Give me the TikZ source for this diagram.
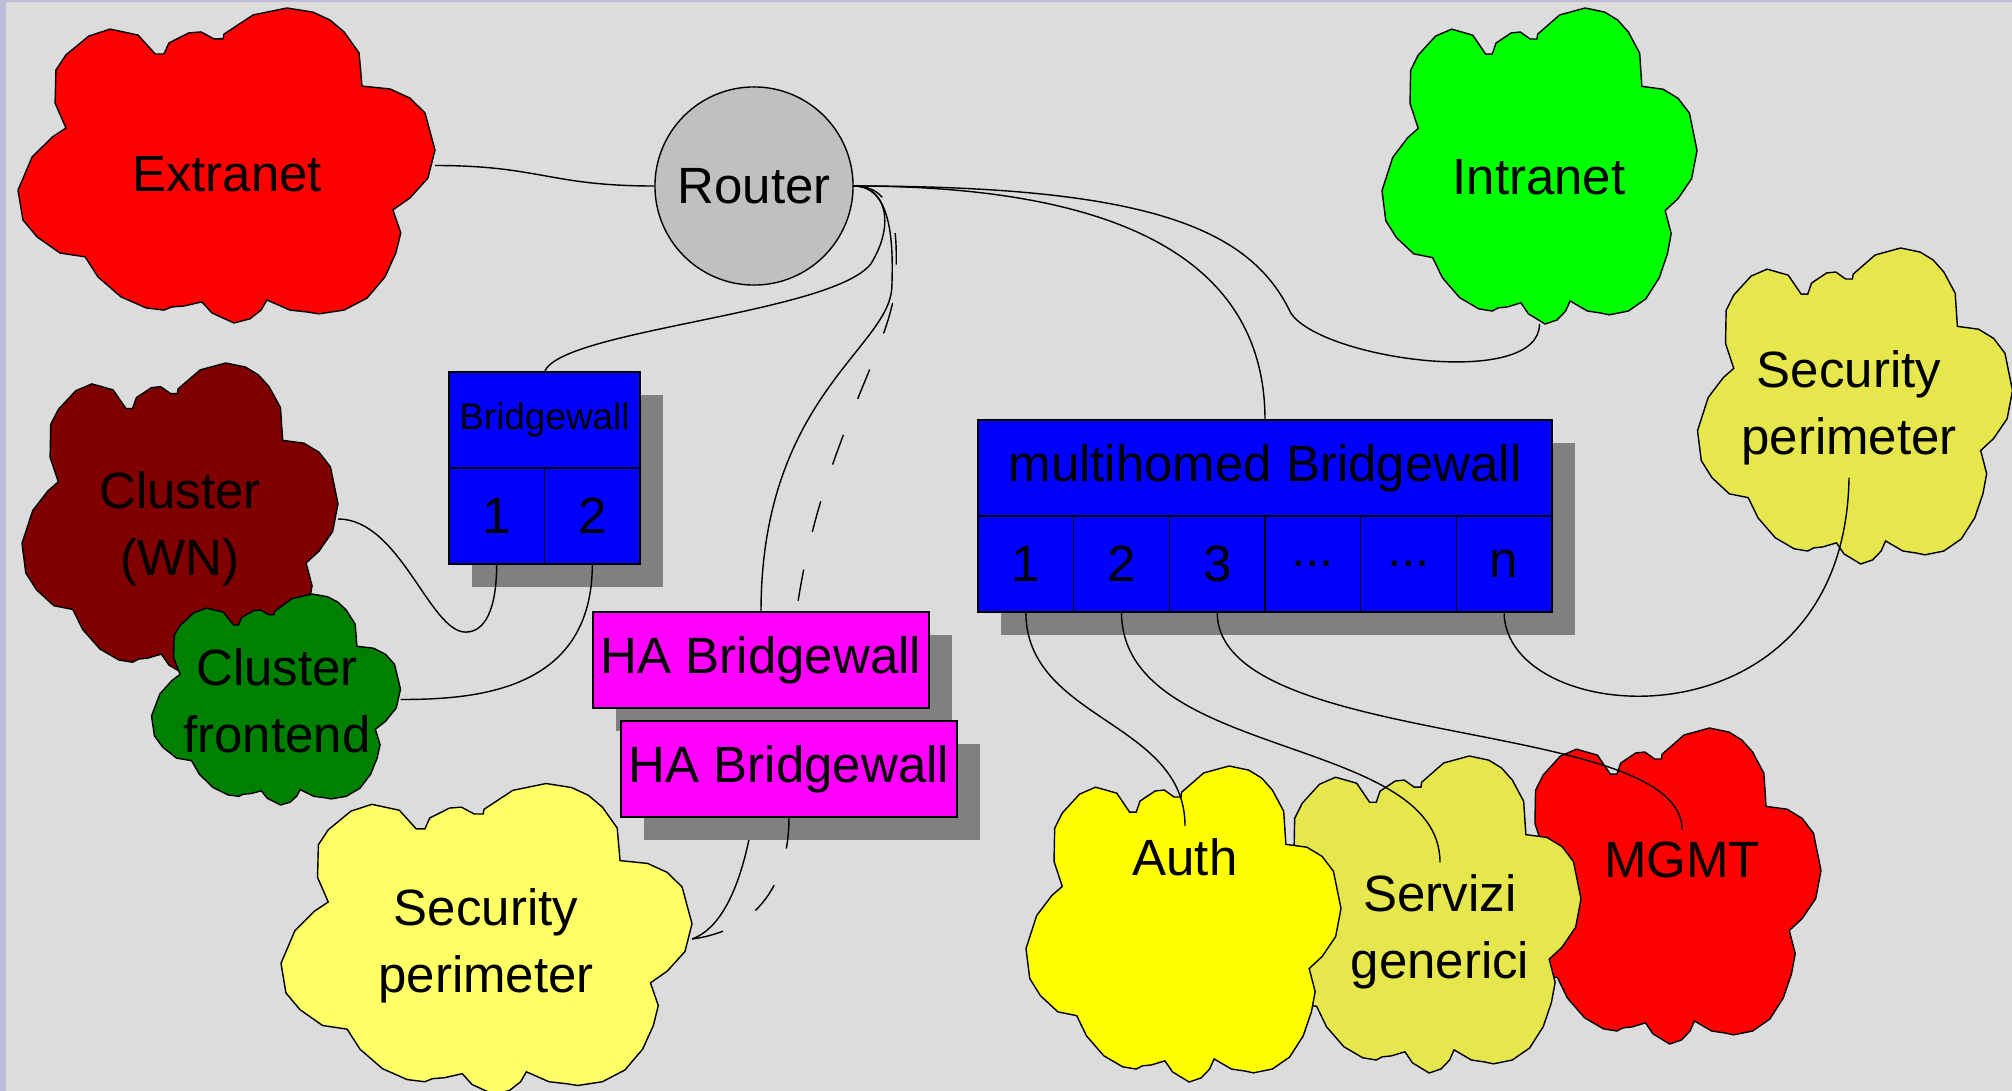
\documentclass[tikz,border=0pt]{standalone}
\usepackage{fontspec}
\setmainfont{Liberation Sans}
\usetikzlibrary{shapes,positioning,calc,shadows}

\definecolor{bggray}{RGB}{220,220,220}
\definecolor{edgeblue}{RGB}{186,190,216}
\definecolor{routergray}{RGB}{192,192,192}
\definecolor{shadowgray}{RGB}{128,128,128}
\definecolor{netred}{RGB}{255,0,0}
\definecolor{netgreen}{RGB}{0,255,0}
\definecolor{netkhaki}{RGB}{230,230,77}
\definecolor{netmaroon}{RGB}{128,0,0}
\definecolor{netforest}{RGB}{0,128,0}
\definecolor{netpale}{RGB}{255,255,102}
\definecolor{netyellow}{RGB}{255,255,0}
\definecolor{bwblue}{RGB}{0,0,255}
\definecolor{hamagenta}{RGB}{255,0,255}

\pgfdeclarelayer{backdrop}
\pgfdeclarelayer{behind}
\pgfsetlayers{backdrop,behind,main}

% cloud outline in a unit box, v pointing down
\newcommand{\cloudshape}{(0.645,0) -- (0.564,0.022) -- (0.494,0.083) -- (0.492,0.098) -- (0.470,0.098) -- (0.439,0.076) -- (0.410,0.079) -- (0.362,0.111) -- (0.350,0.146) -- (0.329,0.146) -- (0.288,0.086) -- (0.221,0.067) -- (0.170,0.089) -- (0.115,0.149) -- (0.091,0.197) -- (0.089,0.302) -- (0.115,0.381) -- (0.082,0.410) -- (0.034,0.473) -- (0,0.578) -- (0.012,0.673) -- (0.046,0.727) -- (0.101,0.778) -- (0.161,0.790) -- (0.192,0.854) -- (0.247,0.917) -- (0.307,0.952) -- (0.350,0.959) -- (0.369,0.949) -- (0.398,0.946) -- (0.441,0.933) -- (0.465,0.968) -- (0.518,1) -- (0.556,0.987) -- (0.583,0.959) -- (0.597,0.927) -- (0.652,0.959) -- (0.693,0.965) -- (0.722,0.971) -- (0.782,0.959) -- (0.837,0.921) -- (0.880,0.854) -- (0.906,0.778) -- (0.918,0.714) -- (0.899,0.641) -- (0.940,0.603) -- (0.983,0.540) -- (1,0.451) -- (0.976,0.333) -- (0.940,0.286) -- (0.892,0.257) -- (0.825,0.248) -- (0.818,0.143) -- (0.782,0.076) -- (0.748,0.038) -- (0.707,0.013) -- cycle}

% name, centre, width, height, colour
\newcommand{\netcloud}[5]{%
    \node[minimum width=#3*0.01cm, minimum height=#4*0.01cm, inner sep=0pt, outer sep=0pt] (#1) at (#2) {};
    \filldraw[fill=#5, shift={(#1.north west)}, xscale=#3, yscale=#4] \cloudshape;
}

\begin{document}
\begin{tikzpicture}[x=0.01cm, y=-0.01cm, line width=0.4pt,
    bigfont/.style={font=\fontsize{14.5}{19}\selectfont},
    lbl/.style={bigfont, align=center},
    boxpart/.style={draw, bigfont, minimum height=0.96cm, inner sep=0pt, outer sep=0pt,
        drop shadow={shadow xshift=0.23cm, shadow yshift=-0.23cm, fill=shadowgray, opacity=1}},
    cell/.style={boxpart, fill=bwblue, minimum width=0.956cm},
    backup/.style={dash pattern=on 9pt off 11pt}]

    \useasboundingbox (0,0) rectangle (2012,1091);
    \begin{pgfonlayer}{backdrop}
        \fill[bggray] (0,0) rectangle (2012,1091);
        \fill[edgeblue] (0,0) rectangle (6,1091);
        \fill[edgeblue] (0,0) rectangle (2012,2);
    \end{pgfonlayer}

    % clouds
    \netcloud{extranet}{226.5,165.5}{417}{315}{netred}
    \node[lbl] (extranetlbl) at (227,174) {Extranet};
    \netcloud{intranet}{1539.5,166}{315}{316}{netgreen}
    \node[lbl] (intranetlbl) at (1539,177) {Intranet};
    \netcloud{secright}{1855,406}{315}{316}{netkhaki}
    \node[lbl] (secrightlbl) at (1849,408) {Security\\perimeter};
    \netcloud{clwn}{180,519}{316}{312}{netmaroon}
    \node[lbl] (clwnlbl) at (180,529) {Cluster\\(WN)};
    \netcloud{clfe}{276,699.5}{249}{211}{netforest}
    \node[lbl] (clfelbl) at (277,701) {Cluster\\frontend};
    \netcloud{secbot}{486.5,939}{411}{311}{netpale}
    \node[lbl] (secbotlbl) at (486,946) {Security\\perimeter};
    \netcloud{mgmt}{1664,886}{314}{316}{netred}
    \node[lbl] (mgmtlbl) at (1682,860) {MGMT};
    \netcloud{serv}{1423.5,914.5}{315}{317}{netkhaki}
    \node[lbl] (servlbl) at (1440,932) {Servizi\\generici};
    \netcloud{auth}{1183.5,924}{315}{316}{netyellow}
    \node[lbl] (authlbl) at (1185,857) {Auth};

    \node[circle, draw, fill=routergray, minimum size=1.98cm, inner sep=0pt, bigfont] (router) at (754,186) {Router};

    % bridgewalls
    \node[boxpart, fill=bwblue, minimum width=1.912cm, font=\fontsize{10.5}{12}\selectfont] (bw) at (544.5,420) {Bridgewall};
    \node[cell, anchor=north west] (bw1) at (bw.south west) {1};
    \node[cell, right=0pt of bw1] (bw2) {2};

    \node[boxpart, fill=hamagenta, minimum width=3.36cm] (ha1) at (761,660) {HA Bridgewall};
    \node[boxpart, fill=hamagenta, minimum width=3.36cm] (ha2) at (789,769) {HA Bridgewall};

    \node[boxpart, fill=bwblue, minimum width=5.736cm] (mbw) at (1265,468) {multihomed Bridgewall};
    \node[cell, anchor=north west] (mbw1) at (mbw.south west) {1};
    \node[cell, right=0pt of mbw1] (mbw2) {2};
    \node[cell, right=0pt of mbw2] (mbw3) {3};
    \node[cell, right=0pt of mbw3] (mbw4) {...};
    \node[cell, right=0pt of mbw4] (mbw5) {...};
    \node[cell, right=0pt of mbw5] (mbw6) {n};

    % links hidden behind the HA pair
    \begin{pgfonlayer}{behind}
        \draw[backup] (router.east) .. controls +(42,0) and +(2,-50) .. ++(42,93) .. controls +(-2,80) and +(0,-241) .. (ha2.north);
        \draw (ha1.south) .. controls +(0,92) and +(53,-19) .. (secbot.east);
    \end{pgfonlayer}

    \draw (extranet.east) .. controls +(105,0) and +(-105,0) .. (router.west);
    \draw (router.east) .. controls +(297,0) and +(-40,-84) .. ++(437,127) .. controls +(30,46) and +(0,66) .. (intranet.south);
    \draw (router.east) .. controls +(247,0) and +(0,-170) .. (mbw.north);
    \draw (router.east) .. controls +(32,0) and +(25,-40) .. ++(17,78) .. controls +(-40,50) and +(15,-42) .. (bw.north);
    \draw (router.east) .. controls +(37,0) and +(2,-50) .. ++(38,103) .. controls +(-5,60) and +(0,-212) .. (ha1.north);
    \draw[backup] (ha2.south) .. controls +(0,63) and +(68,-9) .. (secbot.east);

    \draw (bw1.south) .. controls +(0,46) and +(19,0) .. ++(-31,68) .. controls +(-36,0) and +(62,0) .. (clwn.east);
    \draw (bw2.south) .. controls +(0,126) and +(78,0) .. (clfe.east);

    \draw (mbw1.south) .. controls +(0,108) and +(0,-105) .. (authlbl.north);
    \draw (mbw2.south) .. controls +(0,148) and +(0,-128) .. (servlbl.north);
    \draw (mbw3.south) .. controls +(0,138) and +(0,-113) .. (mgmtlbl.north);
    \draw (mbw6.south) .. controls +(0,118) and +(-4,278) .. (secrightlbl.south);
\end{tikzpicture}
\end{document}
